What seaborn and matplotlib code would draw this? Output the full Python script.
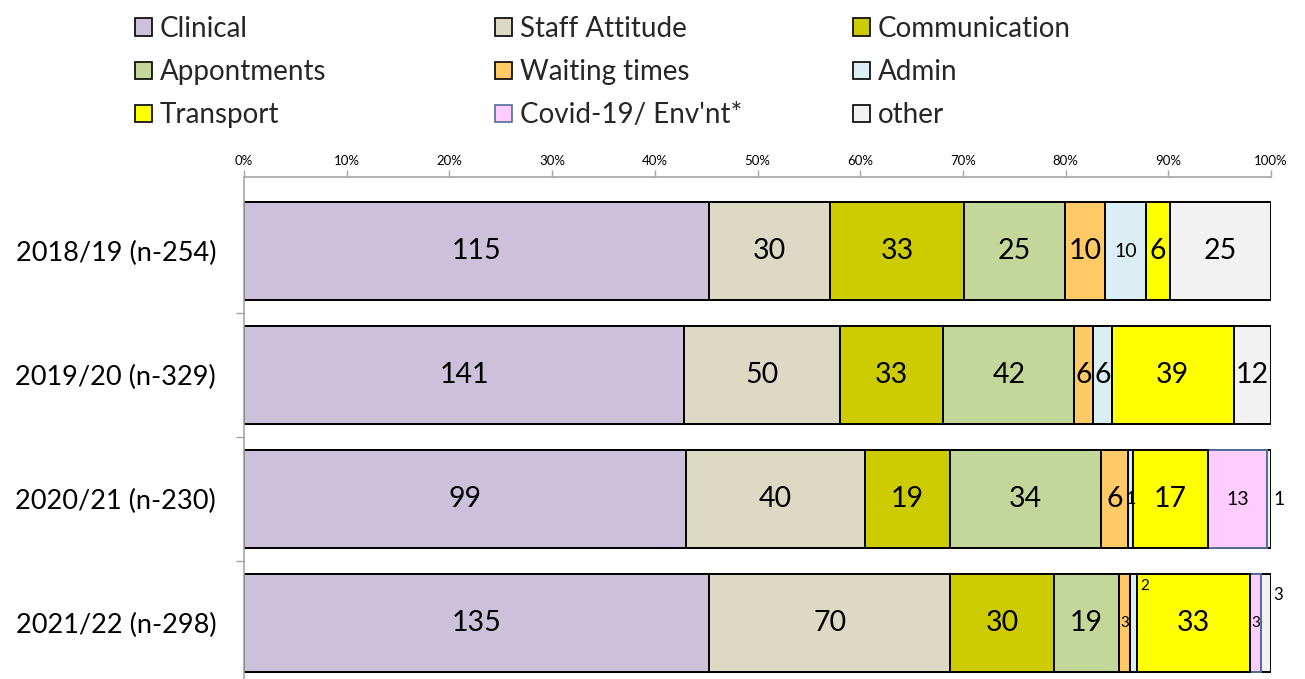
import numpy as np
import pandas as pd
import matplotlib
matplotlib.use("Agg")
import matplotlib.pyplot as plt
from matplotlib.patches import Patch
import seaborn as sns

# ---------------- data ----------------
years = ["2018/19 (n-254)", "2019/20 (n-329)", "2020/21 (n-230)", "2021/22 (n-298)"]
categories = ["Clinical", "Staff Attitude", "Communication", "Appontments",
              "Waiting times", "Admin", "Transport", "Covid-19/ Env'nt*", "other"]
clinical = [115, 141, 99, 135]
staff_attitude = [30, 50, 40, 70]
communication = [33, 33, 19, 30]
appointments = [25, 42, 34, 19]
waiting_times = [10, 6, 6, 3]
admin = [10, 6, 1, 2]
transport = [6, 39, 17, 33]
covid = [0, 0, 13, 3]
other = [25, 12, 1, 3]
x_ticks = list(range(0, 101, 10))

# ---------------- styles ----------------
colors = {
    "Clinical": "#CCC0DA",
    "Staff Attitude": "#DDD9C4",
    "Communication": "#CCCC00",
    "Appontments": "#C4D79B",
    "Waiting times": "#FFC966",
    "Admin": "#DAEEF3",
    "Transport": "#FFFF00",
    "Covid-19/ Env'nt*": "#FFCCFF",
    "other": "#F2F2F2",
}
edges = {c: "black" for c in categories}
edges["Covid-19/ Env'nt*"] = "#4F6D9A"

# small / displaced labels: (row, category) -> (fontsize, dx_pt, dy_pt, ha, anchor)
label_style = {
    (0, "Admin"): (14, 0, 0, "center", "mid"),
    (2, "Admin"): (13, 0, 0, "center", "mid"),
    (2, "Covid-19/ Env'nt*"): (14, 0, 0, "center", "mid"),
    (2, "other"): (14, 2, 0, "left", "end"),
    (3, "Waiting times"): (11, 0, 0, "center", "mid"),
    (3, "Admin"): (11, 3, 27, "left", "end"),
    (3, "Covid-19/ Env'nt*"): (11, 0, 0, "center", "mid"),
    (3, "other"): (12, 2, 20, "left", "end"),
}

FONT = "Lato"
plt.rcParams["font.family"] = [FONT, "DejaVu Sans"]

counts = pd.DataFrame({
    "Clinical": clinical, "Staff Attitude": staff_attitude,
    "Communication": communication, "Appontments": appointments,
    "Waiting times": waiting_times, "Admin": admin, "Transport": transport,
    "Covid-19/ Env'nt*": covid, "other": other,
}, index=years)
pct = counts.div(counts.sum(axis=1), axis=0) * 100
cum = pct.cumsum(axis=1)

W, H = 1305, 679
fig = plt.figure(figsize=(W / 100, H / 100), dpi=100)
ax = fig.add_axes([244 / W, 0, (1271 - 244) / W, 1 - 177 / H])
sns.set_style("white")
plt.rcParams["font.family"] = [FONT, "DejaVu Sans"]

for cat in reversed(categories):
    sns.barplot(x=cum[cat].values, y=years, orient="h", color=colors[cat],
                saturation=1, edgecolor=edges[cat], linewidth=1.4,
                width=0.79, ax=ax, errorbar=None)

# value labels
for i, yr in enumerate(years):
    for cat in categories:
        v = counts.loc[yr, cat]
        if v == 0:
            continue
        fs, dx, dy, ha, anchor = label_style.get((i, cat), (20.5, 0, 0, "center", "mid"))
        xpos = cum.loc[yr, cat] - pct.loc[yr, cat] / 2 if anchor == "mid" else cum.loc[yr, cat]
        ax.annotate(str(v), (xpos, i), xytext=(dx, dy), textcoords="offset points",
                    ha=ha, va="center", fontsize=fs, color="black", family=FONT)

ax.set_xlim(0, 100)
ax.set_ylim(3.45, -0.6)
ax.xaxis.tick_top()
ax.set_xticks(x_ticks)
ax.set_xticklabels([f"{t}%" for t in x_ticks], fontsize=9.5, family=FONT)
ax.tick_params(axis="x", direction="out", length=5, width=1, color="#A6A6A6", pad=2)
ax.set_yticks(range(len(years)))
ax.set_yticklabels(years, fontsize=19.5, family=FONT)
ax.tick_params(axis="y", which="major", length=0, pad=20)
ax.set_yticks([0.5, 1.5, 2.5], minor=True)
ax.tick_params(axis="y", which="minor", direction="out", length=6, width=1, color="#A6A6A6")
ax.set_xlabel("")
ax.set_ylabel("")
for s in ["right", "bottom"]:
    ax.spines[s].set_visible(False)
for s in ["top", "left"]:
    ax.spines[s].set_color("#A6A6A6")
    ax.spines[s].set_linewidth(1.2)

# legend: three columns placed separately, read row-wise
cols = [categories[0::3], categories[1::3], categories[2::3]]
col_x = [135, 495, 853]
for cx, cats in zip(col_x, cols):
    handles = [Patch(facecolor=colors[c], edgecolor=edges[c], linewidth=1.2) for c in cats]
    fig.legend(handles, cats, loc="upper left", bbox_to_anchor=(cx / W, 1 - 16 / H),
               frameon=False, handlelength=0.6, handleheight=0.6,
               handletextpad=0.3, labelspacing=0.62, borderpad=0, borderaxespad=0,
               prop={"family": FONT, "size": 20})

fig.savefig("out.png", dpi=100)
